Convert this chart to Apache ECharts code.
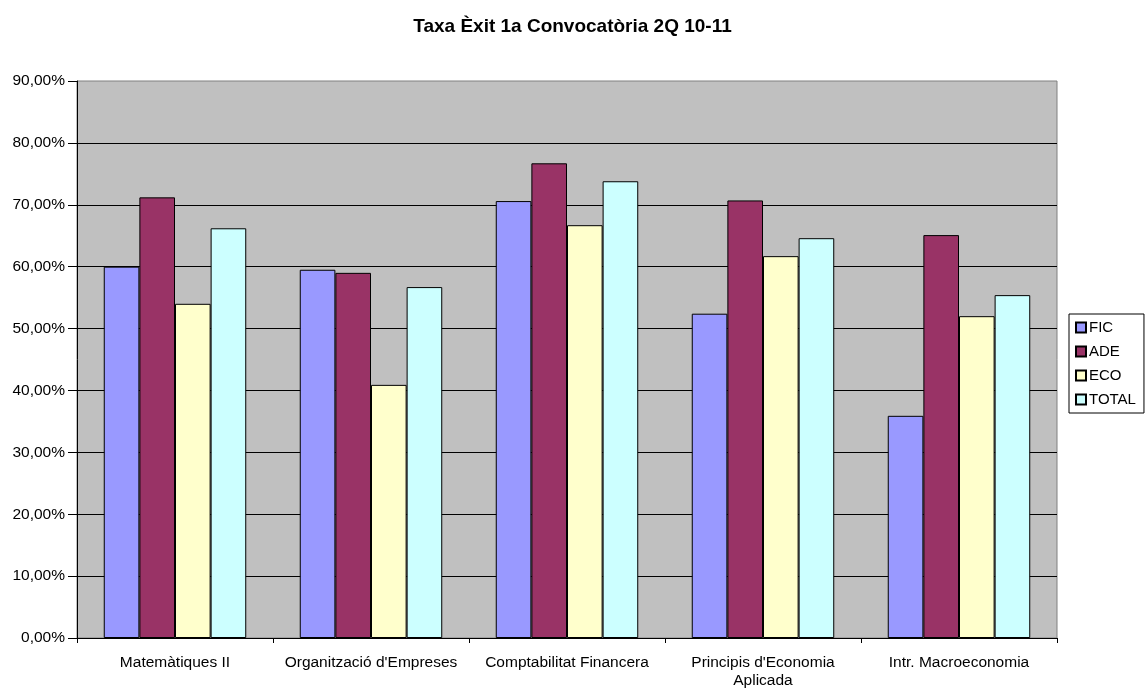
<!DOCTYPE html>
<html>
<head>
<meta charset="utf-8">
<script src="https://cdn.jsdelivr.net/npm/echarts@6/dist/echarts.min.js"></script>
<style>
html,body{margin:0;padding:0;background:#fff;}
#chart{width:1145px;height:690px;}
</style>
</head>
<body>
<div id="chart"></div>
<script>
var titleText = "Taxa Èxit 1a Convocatòria 2Q 10-11";
var categories = ["Matemàtiques II", "Organització d'Empreses", "Comptabilitat Financera", "Principis d'Economia\nAplicada", "Intr. Macroeconomia"];
var seriesNames = ["FIC", "ADE", "ECO", "TOTAL"];
var ficValues = [60.0, 59.5, 70.6, 52.4, 35.9];
var adeValues = [71.2, 59.0, 76.7, 70.7, 65.1];
var ecoValues = [54.0, 40.9, 66.7, 61.7, 52.0];
var totalValues = [66.2, 56.7, 73.8, 64.6, 55.4];
var yTicks = [0, 10, 20, 30, 40, 50, 60, 70, 80, 90];

var colors = ["#9999FF", "#993366", "#FFFFCC", "#CCFFFF"];
var valuesList = [ficValues, adeValues, ecoValues, totalValues];
var FONT = "'Liberation Sans', Arial, sans-serif";

var chart = echarts.init(document.getElementById('chart'));
var series = seriesNames.map(function (n, i) {
  return {
    name: n,
    type: 'bar',
    data: valuesList[i],
    barGap: '0%',
    barCategoryGap: '27.3%',
    itemStyle: { color: colors[i], borderColor: '#000', borderWidth: 1 }
  };
});

chart.setOption({
  animation: false,
  backgroundColor: '#ffffff',
  title: {
    text: titleText,
    left: 'center',
    top: 17,
    padding: 0,
    textStyle: { fontFamily: FONT, fontSize: 19, fontWeight: 'bold', color: '#000', lineHeight: 19 }
  },
  grid: {
    left: 77, right: 88, top: 81, bottom: 49,
    show: true, backgroundColor: '#C0C0C0', borderColor: '#808080', borderWidth: 1
  },
  legend: {
    orient: 'vertical',
    left: 1069, top: 314,
    padding: [6, 8, 6, 6],
    itemGap: 9,
    itemWidth: 10, itemHeight: 10,
    icon: 'rect',
    backgroundColor: '#fff',
    borderColor: '#000', borderWidth: 1,
    textStyle: { fontFamily: FONT, fontSize: 15, color: '#000', lineHeight: 14, padding: [0, 0, 0, -2] },
    data: seriesNames
  },
  xAxis: {
    type: 'category',
    data: categories,
    boundaryGap: true,
    axisLine: { show: true, lineStyle: { color: '#000', width: 1 } },
    axisTick: { show: true, length: 5, lineStyle: { color: '#000' } },
    axisLabel: { fontFamily: FONT, fontSize: 15.5, color: '#000', margin: 16, lineHeight: 18, interval: 0 }
  },
  yAxis: {
    type: 'value',
    min: yTicks[0], max: yTicks[yTicks.length - 1], interval: 10,
    axisLine: { show: true, lineStyle: { color: '#000', width: 1 } },
    axisTick: { show: true, length: 9, lineStyle: { color: '#000' } },
    splitLine: { show: true, showMaxLine: false, lineStyle: { color: '#000', width: 1 } },
    axisLabel: {
      fontFamily: FONT, fontSize: 15.5, color: '#000', margin: 12,
      formatter: function (v) { return v.toFixed(2).replace('.', ',') + '%'; }
    }
  },
  series: series
});
</script>
</body>
</html>
